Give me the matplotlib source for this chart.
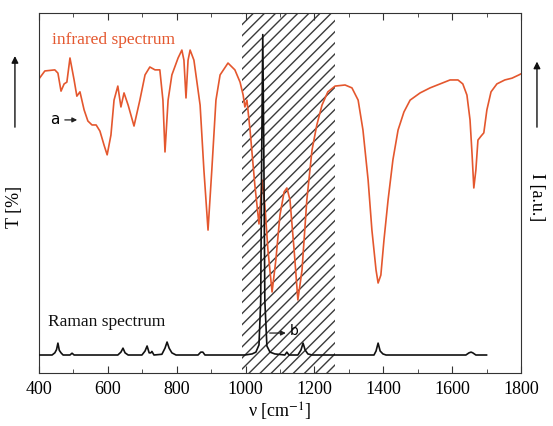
import matplotlib
matplotlib.use("Agg")
import matplotlib.pyplot as plt
from matplotlib.ticker import MultipleLocator

plt.rcParams["font.family"] = ["Liberation Serif", "DejaVu Serif"]
plt.rcParams["mathtext.fontset"] = "stix"

# infrared transmission (relative units, 0-100 of the axis height)
ir_wavenumber = [400, 417, 446, 455, 464, 473, 481, 490, 502, 510, 519, 531, 542, 554,
                 566, 577, 589, 598, 609, 618, 629, 638, 647, 659, 676, 693, 708, 722,
                 737, 751, 760, 766, 775, 786, 804, 815, 821, 827, 833, 839, 850, 868,
                 879, 891, 902, 914, 926, 949, 969, 984, 993, 998, 1004, 1013, 1027,
                 1039, 1048, 1056, 1065, 1077, 1088, 1100, 1112, 1120, 1129, 1141, 1152,
                 1164, 1178, 1193, 1207, 1222, 1239, 1260, 1289, 1309, 1327, 1341, 1356,
                 1367, 1379, 1385, 1393, 1402, 1414, 1428, 1443, 1460, 1478, 1507, 1536,
                 1565, 1594, 1617, 1631, 1643, 1652, 1658, 1663, 1669, 1675, 1684, 1692,
                 1701, 1713, 1730, 1753, 1774, 1794, 1800]
ir_transmission = [81.7, 83.9, 84.2, 83.3, 78.3, 80.3, 80.8, 87.5, 81.4, 76.9, 78.1, 73.1,
                   70.0, 68.9, 68.9, 67.2, 63.3, 60.6, 66.1, 75.8, 79.7, 73.9, 77.8, 74.4,
                   68.6, 75.8, 82.8, 85.0, 84.2, 84.2, 75.8, 61.4, 75.8, 82.8, 87.5, 89.7,
                   86.9, 76.4, 86.9, 89.7, 86.9, 74.4, 56.4, 39.7, 56.4, 75.8, 82.8, 86.1,
                   84.2, 80.8, 77.2, 73.9, 75.8, 67.5, 52.2, 41.4, 53.6, 46.7, 34.2, 22.5,
                   31.4, 43.9, 50.3, 51.4, 48.1, 34.2, 20.3, 28.6, 48.1, 61.9, 68.9, 74.4,
                   78.1, 79.7, 80.0, 79.2, 75.8, 67.5, 53.6, 39.7, 28.6, 25.0, 27.2, 36.9,
                   48.1, 59.2, 67.5, 72.5, 75.8, 77.8, 79.2, 80.3, 81.4, 81.4, 80.3, 77.2,
                   70.3, 60.6, 51.4, 56.4, 64.7, 65.8, 66.7, 73.1, 78.1, 80.3, 81.4, 81.9,
                   82.8, 83.1]

# Raman intensity (relative units)
raman_wavenumber = [400, 438, 446, 451, 455, 459, 464, 470, 490, 496, 502, 629, 638, 644,
                    650, 659, 699, 708, 714, 720, 725, 728, 734, 757, 766, 772, 778, 786,
                    798, 862, 870, 876, 882, 998, 1019, 1030, 1039, 1044, 1047, 1050, 1053,
                    1056, 1062, 1071, 1085, 1114, 1120, 1126, 1152, 1161, 1167, 1173, 1181,
                    1193, 1373, 1379, 1385, 1391, 1399, 1408, 1640, 1649, 1655, 1660, 1669,
                    1700]
raman_intensity = [5.0, 5.0, 5.6, 6.5, 8.3, 6.3, 5.6, 5.0, 5.0, 5.5, 5.0, 5.0, 5.8, 6.9,
                   5.6, 5.0, 5.0, 6.1, 7.5, 5.6, 5.6, 6.0, 5.0, 5.2, 6.9, 8.6, 6.9, 5.6,
                   5.0, 5.0, 5.8, 5.8, 5.0, 5.0, 5.3, 5.8, 7.8, 20, 62, 94, 62,
                   20, 7.5, 5.8, 5.3, 5.0, 5.8, 5.0, 5.0, 6.4, 8.3, 6.4, 5.3,
                   5.0, 5.0, 6.1, 8.3, 6.1, 5.3, 5.0, 5.0, 5.6, 5.8, 5.6, 5.0,
                   5.0]

hatched_band = (990, 1260)
ir_color = "#e4572e"

fig = plt.figure(figsize=(5.53, 4.26), dpi=100)
ax = fig.add_axes([0.0705, 0.1244, 0.8716, 0.8451])

ax.axvspan(*hatched_band, facecolor="white", edgecolor="#3a3a3a",
           hatch="///", linewidth=0, zorder=0)

ax.plot(ir_wavenumber, ir_transmission, color=ir_color, lw=1.2, zorder=2)
ax.plot(raman_wavenumber, raman_intensity, color="#111111", lw=1.2, zorder=3)

ax.set_xlim(400, 1800)
ax.set_ylim(0, 100)
ax.xaxis.set_major_locator(MultipleLocator(200))
ax.xaxis.set_minor_locator(MultipleLocator(100))
ax.tick_params(axis="x", which="both", direction="in", top=True, labelsize=13,
               color="#333333", pad=6)
ax.tick_params(axis="x", which="major", length=5)
ax.tick_params(axis="x", which="minor", length=3)
ax.set_yticks([])
for s in ax.spines.values():
    s.set_color("#333333")

ax.set_xlabel("ν [cm$^{-1}$]", fontsize=13, labelpad=2)

ax.text(438, 92.5, "infrared spectrum", color=ir_color, fontsize=12.5, va="center")
ax.text(426, 14.2, "Raman spectrum", color="#111111", fontsize=12.5, va="center")

# labels a and b
ax.annotate("", xy=(519, 70.3), xytext=(467, 70.3),
            arrowprops=dict(arrowstyle="-|>", color="#222222", lw=0.9, mutation_scale=7))
ax.text(446, 70.3, "a", family="DejaVu Sans", fontsize=11, va="center", ha="center")
ax.annotate("", xy=(1125, 11.1), xytext=(1062, 11.1),
            arrowprops=dict(arrowstyle="-|>", color="#222222", lw=0.9, mutation_scale=7))
ax.text(1140, 11.8, "b", family="DejaVu Sans", fontsize=10, va="center", ha="center")

# y axis labels with arrows
fig.text(0.027, 0.515, "T [%]", rotation=90, fontsize=13, ha="center", va="center")
fig.add_artist(matplotlib.patches.FancyArrowPatch(
    (0.027, 0.695), (0.027, 0.875), transform=fig.transFigure,
    arrowstyle="-|>", mutation_scale=10, color="#111111", lw=1.0))
fig.text(0.971, 0.538, "I [a.u.]", rotation=-90, fontsize=13, ha="center", va="center")
fig.add_artist(matplotlib.patches.FancyArrowPatch(
    (0.971, 0.695), (0.971, 0.862), transform=fig.transFigure,
    arrowstyle="-|>", mutation_scale=10, color="#111111", lw=1.0))

fig.savefig("out.png", dpi=100)
